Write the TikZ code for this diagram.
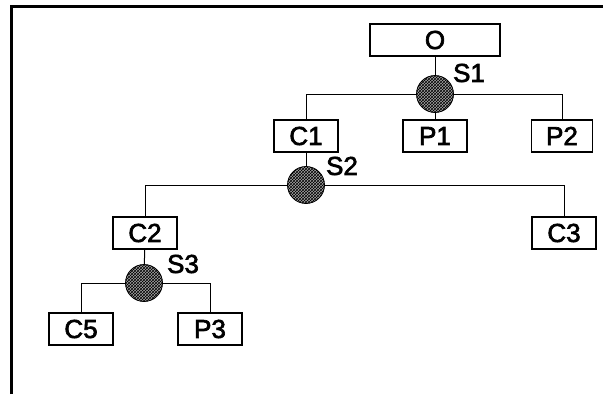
\documentclass[tikz,border=0pt]{standalone}
\usepackage{fontspec}
\setmainfont{Liberation Sans}
\newfontfamily\lblfont[FakeBold=2.5]{Liberation Sans}
\usetikzlibrary{patterns}
\begin{document}
\begin{tikzpicture}[x=1pt,y=-1pt,
  every node/.style={inner sep=0pt, outer sep=0pt},
  box/.style={draw, line width=1.1pt, minimum width=64pt, minimum height=32pt,
    font=\lblfont\fontsize{26}{28}\selectfont},
  sel/.style={circle, draw, line width=0.8pt, minimum size=37pt,
    fill=gray!70, postaction={pattern=crosshatch, pattern color=black}},
  tag/.style={font=\lblfont\fontsize{26}{28}\selectfont},
  link/.style={line width=1pt}]
\useasboundingbox (0,0) rectangle (603,394);
% frame
\draw[line width=3pt] (11,394) -- (11,6) -- (603,6);

% nodes
\node[box, minimum width=130pt] (o)  at (435,40)  {O};
\node[sel]                      (s1) at (435,94)  {};
\node[tag]                      (t1) at (469,73)  {S1};
\node[box]                      (c1) at (306,136) {C1};
\node[box]                      (p1) at (435,136) {P1};
\node[box, minimum width=61pt]  (p2) at (562,136) {P2};
\node[sel]                      (s2) at (306,185) {};
\node[tag]                      (t2) at (342,166) {S2};
\node[box]                      (c2) at (145,233) {C2};
\node[box]                      (c3) at (564,233) {C3};
\node[sel]                      (s3) at (144,283) {};
\node[tag]                      (t3) at (183,264) {S3};
\node[box]                      (c5) at (81,329)  {C5};
\node[box]                      (p3) at (210,329) {P3};

% connectors
\draw[link] (o) -- (s1);
\draw[link] (s1) -- (p1);
\draw[link] (s1) -| (c1);
\draw[link] (s1) -| (p2);
\draw[link] (c1) -- (s2);
\draw[link] (s2) -| (c2);
\draw[link] (s2) -| (c3);
\draw[link] (c2) -- (s3);
\draw[link] (s3) -| (c5);
\draw[link] (s3) -| (p3);
\end{tikzpicture}
\end{document}
